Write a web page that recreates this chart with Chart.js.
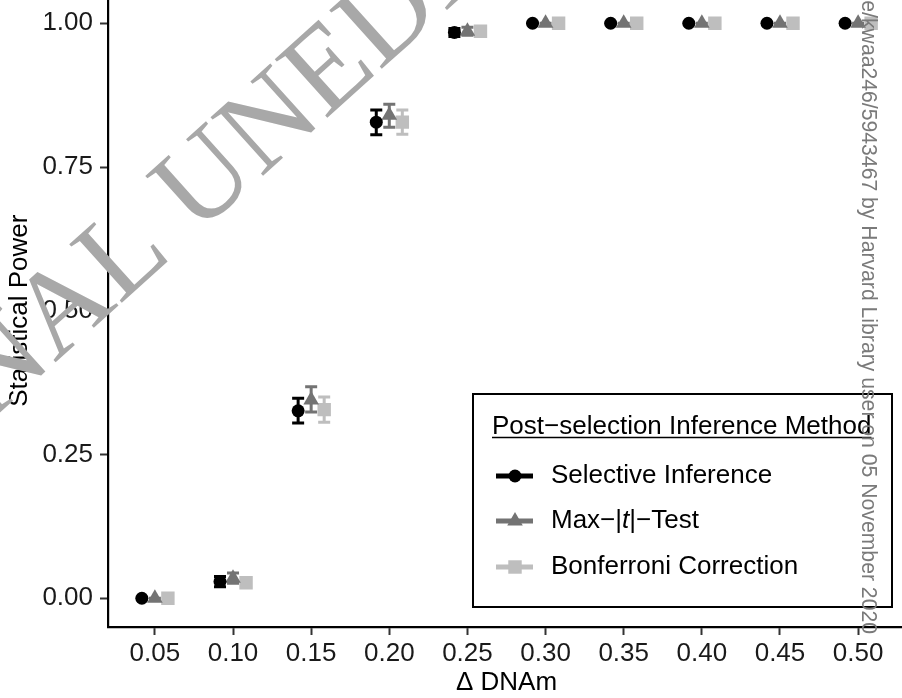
<!DOCTYPE html>
<html>
<head>
<meta charset="utf-8">
<script src="https://cdn.jsdelivr.net/npm/chart.js@4.4.0/dist/chart.umd.min.js"></script>
<style>
  html, body { margin: 0; padding: 0; background: #ffffff; overflow: hidden; width: 902px; height: 698px; }
  #wrap { position: absolute; left: 0; top: -15px; width: 920px; height: 713px; }
</style>
</head>
<body>
<div id="wrap"><canvas id="c" width="920" height="713"></canvas></div>
<script>
// ---------- data ----------
const categories = ['0.05', '0.10', '0.15', '0.20', '0.25', '0.30', '0.35', '0.40', '0.45', '0.50'];
const yTickValues = [0, 0.25, 0.5, 0.75, 1];
const seriesNames = ['Selective Inference', 'Max\u2212|t|\u2212Test', 'Bonferroni Correction'];

const siPower   = [0.000, 0.029, 0.326, 0.828, 0.984, 1, 1, 1, 1, 1];
const siLower   = [0.000, 0.020, 0.305, 0.806, 0.977, 1, 1, 1, 1, 1];
const siUpper   = [0.000, 0.038, 0.348, 0.849, 0.991, 1, 1, 1, 1, 1];

const maxtPower = [0.000, 0.035, 0.345, 0.840, 0.986, 1, 1, 1, 1, 1];
const maxtLower = [0.000, 0.026, 0.324, 0.819, 0.979, 1, 1, 1, 1, 1];
const maxtUpper = [0.000, 0.044, 0.368, 0.859, 0.993, 1, 1, 1, 1, 1];

const bonfPower = [0.000, 0.027, 0.328, 0.828, 0.986, 1, 1, 1, 1, 1];
const bonfLower = [0.000, 0.019, 0.306, 0.807, 0.979, 1, 1, 1, 1, 1];
const bonfUpper = [0.000, 0.035, 0.350, 0.849, 0.993, 1, 1, 1, 1, 1];

const legendTitle = 'Post\u2212selection Inference Method';
const xTitle = '\u0394 DNAm';
const yTitle = 'Statistical Power';
const watermarkText = ['ORIGINAL ', 'UNEDITED MANUSCRIPT'];
const sideNote = 'Downloaded from https://academic.oup.com/aje/advance-article/doi/10.1093/aje/kwaa246/5943467 by Harvard Library user on 05 November 2020';

// ---------- styling ----------
const FONT = '"Liberation Sans", Arial, Helvetica, sans-serif';
const colors = ['#000000', '#737373', '#bebebe'];
const shapes = ['circle', 'triangle', 'rect'];
const radii = [6.5, 9, 9.5];
const dodge = [-1 / 6, 0, 1 / 6];
const OFF = 15; // canvas is shifted 15px up relative to page

const powers = [siPower, maxtPower, bonfPower];
const lowers = [siLower, maxtLower, bonfLower];
const uppers = [siUpper, maxtUpper, bonfUpper];

const datasets = seriesNames.map((name, s) => ({
  label: name,
  data: categories.map((c, i) => ({ x: i + 1 + dodge[s], y: powers[s][i], lo: lowers[s][i], hi: uppers[s][i] })),
  showLine: false,
  pointStyle: shapes[s],
  pointRadius: radii[s],
  pointHoverRadius: radii[s],
  pointBackgroundColor: colors[s],
  pointBorderColor: colors[s],
  pointBorderWidth: 0,
  backgroundColor: colors[s],
  borderColor: colors[s]
}));

const errorBars = {
  id: 'errorBars',
  beforeDatasetsDraw(chart) {
    const ctx = chart.ctx;
    const xs = chart.scales.x, ys = chart.scales.y;
    ctx.save();
    chart.data.datasets.forEach((ds, s) => {
      ctx.strokeStyle = colors[s];
      ctx.lineWidth = 3;
      ctx.lineCap = 'butt';
      ds.data.forEach(p => {
        const px = xs.getPixelForValue(p.x);
        const y1 = ys.getPixelForValue(p.lo);
        const y2 = ys.getPixelForValue(p.hi);
        const hw = 6;
        ctx.beginPath();
        ctx.moveTo(px, y1); ctx.lineTo(px, y2);
        ctx.moveTo(px - hw, y1); ctx.lineTo(px + hw, y1);
        ctx.moveTo(px - hw, y2); ctx.lineTo(px + hw, y2);
        ctx.stroke();
      });
    });
    ctx.restore();
  }
};

const watermark = {
  id: 'watermark',
  beforeDatasetsDraw(chart) {
    const ctx = chart.ctx;
    ctx.save();
    ctx.translate(196, 236 + OFF);
    ctx.rotate(-42 * Math.PI / 180);
    ctx.font = '120px "Liberation Serif", "Times New Roman", serif';
    ctx.fillStyle = '#a8a8a8';
    ctx.textBaseline = 'alphabetic';
    ctx.textAlign = 'left';
    ctx.fillText(watermarkText[0], -ctx.measureText(watermarkText[0]).width, 0);
    ctx.fillText(watermarkText[1], 0, 0);
    ctx.restore();
  },
  afterDraw(chart) {
    const ctx = chart.ctx;
    ctx.save();
    ctx.translate(862, 634 + OFF);
    ctx.rotate(Math.PI / 2);
    ctx.font = '21.2px ' + FONT;
    ctx.fillStyle = '#7a7a7a';
    ctx.textAlign = 'right';
    ctx.textBaseline = 'alphabetic';
    ctx.fillText(sideNote, 0, 0);
    ctx.restore();
  }
};

function drawMarker(ctx, s, x, y) {
  Chart.helpers.drawPoint(ctx, { pointStyle: shapes[s], radius: radii[s], borderWidth: 0 }, x, y);
}

const boxLegend = {
  id: 'boxLegend',
  afterDatasetsDraw(chart) {
    const ctx = chart.ctx;
    ctx.save();
    const bx = 473, by = 394 + OFF, bw = 419, bh = 213;
    ctx.fillStyle = '#ffffff';
    ctx.fillRect(bx, by, bw, bh);
    ctx.strokeStyle = '#000000';
    ctx.lineWidth = 2;
    ctx.strokeRect(bx, by, bw, bh);
    // title
    ctx.font = '26px ' + FONT;
    ctx.fillStyle = '#000000';
    ctx.textBaseline = 'alphabetic';
    ctx.textAlign = 'left';
    const tx = 492, ty = 434 + OFF;
    ctx.fillText(legendTitle, tx, ty);
    const tw = ctx.measureText(legendTitle).width;
    ctx.lineWidth = 1.5;
    ctx.beginPath();
    ctx.moveTo(tx, ty + 3.5); ctx.lineTo(tx + tw, ty + 3.5);
    ctx.stroke();
    // items
    const rows = [476, 521, 567];
    chart.data.datasets.forEach((ds, s) => {
      const cy = rows[s] + OFF;
      ctx.strokeStyle = colors[s];
      ctx.fillStyle = colors[s];
      ctx.lineWidth = 5;
      ctx.beginPath();
      ctx.moveTo(496, cy); ctx.lineTo(533, cy);
      ctx.stroke();
      drawMarker(ctx, s, 515, cy);
      ctx.fillStyle = '#000000';
      ctx.textBaseline = 'middle';
      const label = ds.label;
      if (label.indexOf('|t|') >= 0) {
        const parts = label.split('t|');
        let x = 551;
        ctx.font = '26px ' + FONT;
        ctx.fillText(parts[0], x, cy);
        x += ctx.measureText(parts[0]).width;
        ctx.font = 'italic 26px ' + FONT;
        ctx.fillText('t', x, cy);
        x += ctx.measureText('t').width;
        ctx.font = '26px ' + FONT;
        ctx.fillText('|' + parts[1], x, cy);
      } else {
        ctx.font = '26px ' + FONT;
        ctx.fillText(label, 551, cy);
      }
    });
    ctx.restore();
  }
};

new Chart(document.getElementById('c'), {
  type: 'scatter',
  data: { datasets },
  options: {
    responsive: false,
    animation: false,
    devicePixelRatio: 1,
    layout: { padding: { top: 3, right: 15, left: 0, bottom: 0 } },
    plugins: { legend: { display: false }, tooltip: { enabled: false } },
    scales: {
      x: {
        type: 'linear',
        min: 0.4, max: 10.6,
        afterBuildTicks: (scale) => { scale.ticks = categories.map((c, i) => ({ value: i + 1 })); },
        afterFit: (scale) => { scale.height = 71; scale.paddingLeft = 0; scale.paddingRight = 0; },
        ticks: {
          autoSkip: false, maxRotation: 0,
          callback: (v) => categories[Math.round(v) - 1],
          color: '#1a1a1a',
          font: { family: FONT, size: 26 },
          padding: 3
        },
        grid: { drawOnChartArea: false, drawTicks: true, tickLength: 8, tickColor: '#333333', tickWidth: 2 },
        border: { display: true, color: '#000000', width: 2.2 },
        title: { display: true, text: xTitle, color: '#000000', font: { family: FONT, size: 26 }, padding: { top: 0, bottom: 0 } }
      },
      y: {
        type: 'linear',
        min: -0.05, max: 1.05,
        afterBuildTicks: (scale) => { scale.ticks = yTickValues.map(v => ({ value: v })); },
        afterFit: (scale) => { scale.width = 108; scale.paddingTop = 0; scale.paddingBottom = 0; },
        ticks: {
          callback: (v) => v.toFixed(2),
          color: '#1a1a1a',
          font: { family: FONT, size: 26 },
          padding: 7
        },
        grid: { drawOnChartArea: false, drawTicks: true, tickLength: 8, tickColor: '#333333', tickWidth: 2 },
        border: { display: true, color: '#000000', width: 2.2 },
        title: { display: true, text: yTitle, color: '#000000', font: { family: FONT, size: 26 }, padding: { top: 4, bottom: 0 } }
      }
    }
  },
  plugins: [watermark, errorBars, boxLegend]
});
</script>
</body>
</html>
